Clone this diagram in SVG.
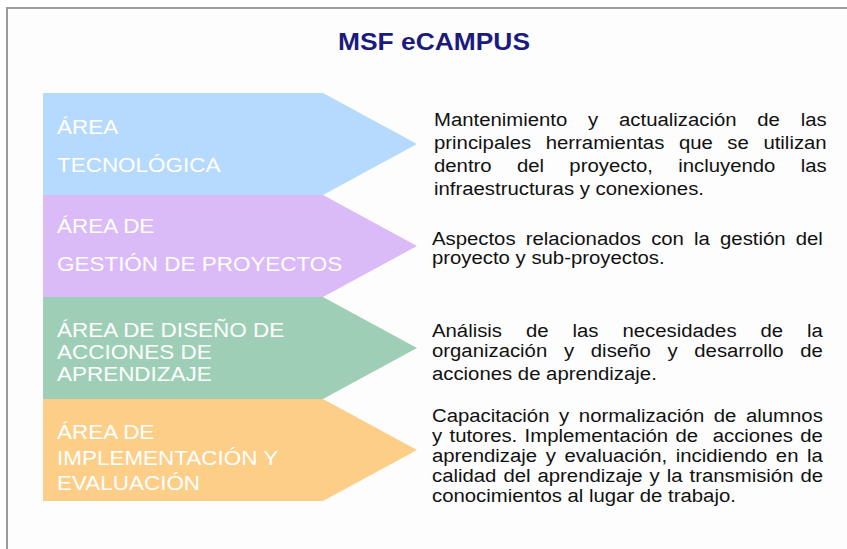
<svg xmlns="http://www.w3.org/2000/svg" width="847" height="549" viewBox="0 0 847 549">
<style>
.frame{fill:#fdfdfd;stroke:#9c9c9c;stroke-width:2}
.title{font-family:"Liberation Sans",Arial,sans-serif;font-weight:bold;font-size:24px;fill:#1b1b7d}
.lbl{font-family:"Liberation Sans",Arial,sans-serif;font-size:21px;fill:#ffffff}
.desc{font-family:"Liberation Sans",Arial,sans-serif;font-size:18px;fill:#111111}
</style>
<rect class="frame" x="7" y="8" width="900" height="600"/>
<text class="title" x="434" y="50" text-anchor="middle" textLength="192" lengthAdjust="spacingAndGlyphs">MSF eCAMPUS</text>

<g id="area-tecnologica">
<polygon points="43,93 323,93 417,144 323,195 43,195" fill="#b6dafd"/>
<g transform="translate(57,0) scale(1.07,1) translate(-57,0)">
<text class="lbl" x="57" y="134">ÁREA</text>
<text class="lbl" x="57" y="172">TECNOLÓGICA</text>
</g>
</g>
<g id="area-gestion">
<polygon points="43,195 323,195 417,246 323,297 43,297" fill="#dbbaf8"/>
<g transform="translate(57,0) scale(1.07,1) translate(-57,0)">
<text class="lbl" x="57" y="233">ÁREA DE</text>
<text class="lbl" x="57" y="271">GESTIÓN DE PROYECTOS</text>
</g>
</g>
<g id="area-diseno">
<polygon points="43,297 323,297 417,348 323,399 43,399" fill="#9ecfb6"/>
<g transform="translate(57,0) scale(1.07,1) translate(-57,0)">
<text class="lbl" x="57" y="337">ÁREA DE DISEÑO DE</text>
<text class="lbl" x="57" y="359">ACCIONES DE</text>
<text class="lbl" x="57" y="381">APRENDIZAJE</text>
</g>
</g>
<g id="area-implementacion">
<polygon points="43,399 323,399 417,450 323,501 43,501" fill="#fdce87"/>
<g transform="translate(57,0) scale(1.07,1) translate(-57,0)">
<text class="lbl" x="57" y="439">ÁREA DE</text>
<text class="lbl" x="57" y="465">IMPLEMENTACIÓN Y</text>
<text class="lbl" x="57" y="490">EVALUACIÓN</text>
</g>
</g>

<g id="descriptions" transform="translate(432,0) scale(1.13,1) translate(-432,0)">
<g id="desc-tecnologica">
<text class="desc" x="433.8" y="126" word-spacing="13.4">Mantenimiento y actualización de las</text>
<text class="desc" x="433.8" y="149" word-spacing="7.9">principales herramientas que se utilizan</text>
<text class="desc" x="433.8" y="172" word-spacing="17.4">dentro del proyecto, incluyendo las</text>
<text class="desc" x="433.8" y="195">infraestructuras y conexiones.</text>
</g>
<g id="desc-gestion">
<text class="desc" x="432" y="245" word-spacing="4">Aspectos relacionados con la gestión del</text>
<text class="desc" x="432" y="264">proyecto y sub-proyectos.</text>
</g>
<g id="desc-diseno">
<text class="desc" x="432" y="337" word-spacing="16.2">Análisis de las necesidades de la</text>
<text class="desc" x="432" y="357" word-spacing="9.8">organización y diseño y desarrollo de</text>
<text class="desc" x="432" y="380">acciones de aprendizaje.</text>
</g>
<g id="desc-implementacion">
<text class="desc" x="432" y="422" word-spacing="3.5">Capacitación y normalización de alumnos</text>
<text class="desc" x="432" y="442" word-spacing="1.5">y tutores. Implementación de&#160; acciones de</text>
<text class="desc" x="432" y="462" word-spacing="2.6">aprendizaje y evaluación, incidiendo en la</text>
<text class="desc" x="432" y="482" word-spacing="1.2">calidad del aprendizaje y la transmisión de</text>
<text class="desc" x="432" y="502">conocimientos al lugar de trabajo.</text>
</g>
</g>
</svg>
